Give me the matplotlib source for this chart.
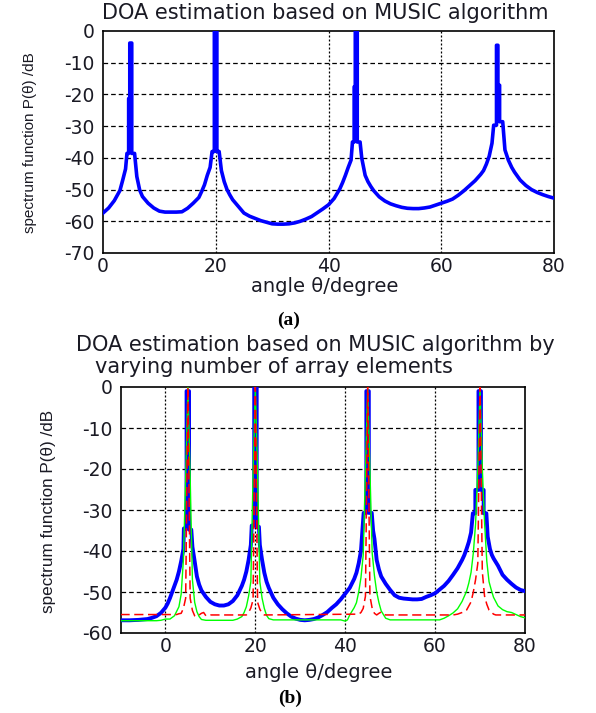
import matplotlib
matplotlib.use('Agg')
import matplotlib.pyplot as plt
from matplotlib import font_manager

# ---- data ----
# (a) single MUSIC spectrum
theta_a = [0, 1, 2, 3, 3.5, 4.0, 4.25, 4.55, 4.55, 4.75, 4.75, 5.1, 5.1, 5.6, 6.0, 6.5, 7,
           8, 9, 10, 11, 12, 13, 14, 15, 16, 17, 17.5, 18, 18.5, 19.0, 19.35, 19.75, 19.75,
           20.2, 20.2, 20.6, 21.0, 21.5, 22, 22.5, 23, 24, 25, 26, 27, 28, 29, 30, 31, 32,
           33, 34, 35, 36, 37, 38, 39, 40, 41, 42, 42.5, 43, 43.5, 44.0, 44.25, 44.55, 44.55,
           44.75, 44.75, 45.1, 45.1, 45.6, 45.9, 46.5, 47, 47.5, 48, 49, 50, 51, 52, 53, 54,
           55, 56, 57, 58, 59, 60, 61, 62, 63, 64, 65, 66, 67, 67.5, 68, 68.5, 69.0, 69.3,
           69.8, 69.8, 70.05, 70.05, 70.35, 70.35, 70.9, 71.3, 71.9, 72.5, 73, 74, 75, 76, 77,
           78, 79, 80]
p_a = [-57.4, -55.8, -53.5, -50.3, -47.0, -43.5, -38.6, -38.6, -21.3, -21.3, -3.8, -3.8,
       -38.6, -38.6, -45.9, -50.1, -52.2, -54.3, -55.8, -56.8, -57.1, -57.1, -57.1, -57.0,
       -55.9, -54.3, -52.5, -50.6, -48.5, -45.5, -43.0, -38.0, -38.0, 0.0, 0.0, -38.0, -38.0,
       -44.0, -47.5, -50.0, -51.7, -53.2, -55.3, -57.4, -58.4, -59.1, -59.8, -60.3, -60.8,
       -60.9, -60.9, -60.8, -60.5, -60.0, -59.3, -58.5, -57.3, -56.1, -54.8, -52.8, -49.8,
       -47.8, -45.5, -43.0, -40.7, -35.0, -35.0, -17.6, -17.6, 0.0, 0.0, -35.0, -35.0, -40.1,
       -45.5, -47.5, -49.0, -50.3, -52.3, -53.6, -54.5, -55.1, -55.6, -55.9, -56.0, -56.0,
       -55.8, -55.5, -54.9, -54.3, -53.7, -53.0, -51.8, -50.4, -48.8, -47.2, -45.2, -44.0,
       -42.0, -39.5, -35.4, -29.7, -29.7, -4.5, -4.5, -17.1, -17.1, -28.6, -28.6, -37.5,
       -40.7, -43.0, -44.5, -47.0, -48.7, -50.0, -50.9, -51.6, -52.2, -52.7]

# (b) varying number of array elements
theta_blue = [-10, -8, -6, -4, -3, -2, -1, 0, 0.5, 1, 1.5, 2, 2.5, 3, 3.5, 4.0, 4.1, 4.7,
              4.7, 5.25, 5.25, 5.75, 6.0, 6.5, 7.0, 7.5, 8, 9, 10, 11, 12, 13, 14, 15, 16, 17,
              17.5, 18, 18.5, 19.0, 19.2, 19.75, 19.75, 20.3, 20.3, 20.8, 21.0, 21.5, 22,
              22.5, 23, 24, 25, 26, 27, 28, 29, 30, 31, 32, 33, 34, 35, 36, 37, 38, 39, 40, 41,
              42, 42.5, 43, 43.5, 44.1, 44.7, 44.7, 45.25, 45.25, 45.9, 46.2, 46.5, 47, 47.5,
              48, 49, 50, 51, 52, 53, 54, 55, 56, 57, 58, 59, 60, 61, 62, 63, 64, 65, 66, 66.5,
              67, 67.5, 68.0, 68.4, 68.95, 68.95, 69.65, 69.65, 70.2, 70.2, 70.8, 70.8, 71.4,
              71.7, 72.2, 72.6, 73, 74, 75, 76, 77, 78, 79, 80]
p_blue = [-56.9, -56.9, -56.8, -56.6, -56.3, -55.9, -55.1, -53.8, -52.8, -51.5, -50.0, -48.5,
          -47.0, -45.0, -42.5, -39.5, -34.5, -34.5, -1.0, -1.0, -34.8, -34.8, -39.0, -42.5,
          -46.2, -48.2, -49.6, -51.2, -52.4, -53.0, -53.3, -53.3, -53.0, -52.2, -50.8, -48.5,
          -47.0, -45.0, -42.2, -38.5, -33.8, -33.8, 0.0, 0.0, -34.1, -34.1, -38.5, -42.2,
          -45.3, -47.5, -49.0, -51.4, -53.0, -54.2, -55.2, -56.0, -56.5, -56.8, -56.9, -56.8,
          -56.6, -56.2, -55.6, -54.9, -53.9, -53.0, -51.8, -50.4, -49.0, -46.8, -45.3, -43.0,
          -40.0, -30.7, -30.7, -1.0, -1.0, -30.7, -30.7, -35.0, -37.0, -42.2, -44.5, -46.2,
          -48.0, -49.5, -50.8, -51.4, -51.6, -51.7, -51.8, -51.8, -51.7, -51.2, -50.8, -50.3,
          -49.4, -48.5, -47.3, -45.8, -44.2, -42.2, -41.0, -39.5, -37.8, -35.5, -30.8, -30.8,
          -25.1, -25.1, -1.0, -1.0, -25.1, -25.1, -30.8, -30.8, -36.5, -39.5, -40.9, -41.8,
          -43.6, -45.8, -47.0, -48.0, -48.9, -49.5, -49.8]

theta_green = [-10, -2, -1, 0, 1, 2, 3, 3.5, 4.0, 4.5, 5.0, 5.5, 6.0, 6.5, 7, 7.5, 8, 9, 15,
               16, 17, 17.5, 18, 18.5, 19.0, 19.5, 20.0, 20.5, 21.0, 21.5, 22, 22.5, 23, 24,
               39, 40, 40.5, 41, 42, 42.5, 43, 43.5, 44.0, 44.5, 45.0, 45.5, 46.0, 46.5, 47,
               47.5, 48, 49, 50, 61, 62, 63, 64, 65, 66, 67, 67.5, 68, 68.5, 69.0, 69.5, 70.0,
               70.5, 71.0, 71.5, 72, 72.5, 73, 74, 75, 76, 77, 78, 79, 80]
p_green = [-57.0, -57.0, -56.9, -56.6, -56.6, -55.8, -53.6, -50.5, -42.0, -22.0, 0.0, -22.0,
           -47.0, -52.5, -54.8, -56.0, -56.7, -56.9, -56.9, -56.6, -56.0, -55.0, -53.6, -51.0,
           -47.5, -21.5, 0.0, -21.5, -47.5, -51.5, -54.0, -55.7, -56.5, -56.8, -56.8, -57.1,
           -56.8, -55.6, -53.8, -52.6, -50.0, -46.5, -41.0, -20.5, 0.0, -20.5, -40.5, -46.0,
           -50.0, -52.6, -54.6, -56.4, -56.8, -56.8, -56.4, -55.8, -55.1, -54.1, -52.3, -49.8,
           -47.8, -45.2, -40.5, -33.5, -19.8, 0.0, -19.8, -33.0, -42.5, -47.5, -49.5, -51.3,
           -53.4, -54.3, -54.8, -55.0, -55.5, -56.0, -56.3]

theta_red = [-10, 2.5, 3, 3.5, 4.0, 4.5, 5.0, 5.5, 6.0, 6.5, 7, 7.5, 8, 8.5, 9, 10, 18, 18.5,
             19.0, 19.5, 20.0, 20.5, 21.0, 21.5, 22, 43, 43.5, 44.0, 44.5, 45.0, 45.5, 46.0,
             46.5, 47, 47.5, 48, 48.5, 49, 64, 65, 66, 67, 68, 68.5, 69.0, 69.5, 70.0, 70.5,
             71.0, 71.5, 72, 73, 73.5, 80]
p_red = [-55.5, -55.5, -55.3, -55.2, -54.0, -51.5, 0.0, -51.5, -54.5, -55.8, -56.0, -55.6,
         -55.2, -55.0, -55.8, -55.6, -55.6, -55.0, -53.9, -51.9, 0.0, -52.5, -54.2, -55.2,
         -55.6, -55.4, -55.0, -54.0, -51.0, 0.0, -51.0, -54.0, -55.2, -55.6, -55.2, -54.9,
         -55.4, -55.6, -55.6, -55.4, -55.0, -54.4, -52.4, -50.0, -47.0, -43.0, 0.0, -45.0,
         -51.0, -53.0, -54.4, -55.4, -55.6, -55.6]

xticks_a = [0, 20, 40, 60, 80]
yticks_a = [0, -10, -20, -30, -40, -50, -60, -70]
xticks_b = [0, 20, 40, 60, 80]
yticks_b = [0, -10, -20, -30, -40, -50, -60]

# ---- styling ----
W, H = 596, 713
TXT = '#1a1a24'
plt.rcParams['font.family'] = ['DejaVu Sans']

# narrow face for the rotated y labels if one is there (text in the source looks condensed)
installed = {f.name for f in font_manager.fontManager.ttflist}
if 'Liberation Sans Narrow' in installed:
    yl_family, yl_a, yl_b = 'Liberation Sans Narrow', 13.3, 15.0
elif 'DejaVu Sans Condensed' in installed:
    yl_family, yl_a, yl_b = 'DejaVu Sans Condensed', 10.7, 12.0
else:
    yl_family, yl_a, yl_b = 'Liberation Sans', 11.0, 12.3

fig = plt.figure(figsize=(W / 100, H / 100), dpi=100)


def px_axes(left, top, right, bottom):
    return fig.add_axes([left / W, 1 - bottom / H, (right - left) / W, (bottom - top) / H])


def style(ax, xlim, ylim, xt, yt):
    ax.set_xlim(*xlim)
    ax.set_ylim(*ylim)
    ax.set_xticks(xt)
    ax.set_yticks(yt)
    ax.set_xticklabels([str(v) for v in xt])
    ax.set_yticklabels([str(v) for v in yt])
    ax.tick_params(length=0, labelsize=13.5, labelcolor=TXT)
    ax.tick_params(axis='y', pad=6)
    ax.tick_params(axis='x', pad=3)
    for s in ax.spines.values():
        s.set_linewidth(1.2)
        s.set_color('black')
    # horizontal grid dashed, vertical grid dotted
    for v in yt:
        if ylim[0] < v < ylim[1]:
            ax.axhline(v, color='black', lw=0.9, linestyle=(0, (3.7, 2.4)), zorder=1)
    for v in xt:
        if xlim[0] < v < xlim[1]:
            ax.axvline(v, color='black', lw=0.9, linestyle=(0, (1.6, 1.6)), zorder=1)


# (a)
ax1 = px_axes(103, 31, 554, 253)
style(ax1, (0, 80), (-70, 0), xticks_a, yticks_a)
ax1.plot(theta_a, p_a, color='#0000ff', lw=2.6, zorder=3)

fig.text(325 / W, 1 - 13 / H, 'DOA estimation based on MUSIC algorithm',
         ha='center', va='center', fontsize=15, color=TXT)
fig.text(325 / W, 1 - 287 / H, 'angle θ/degree', ha='center', va='center',
         fontsize=14, color=TXT)
fig.text(29.6 / W, 1 - 143 / H, 'spectrum function P(θ) /dB', rotation=90,
         ha='center', va='center', fontsize=yl_a, color=TXT, family=[yl_family, 'DejaVu Sans'])
fig.text(289 / W, 1 - 320 / H, '(a)', ha='center', va='center', fontsize=14,
         fontweight='bold', family='Liberation Serif', color='black')

# (b)
ax2 = px_axes(120.5, 387, 525, 633)
style(ax2, (-10, 80), (-60, 0), xticks_b, yticks_b)
ax2.plot(theta_blue, p_blue, color='#0000ff', lw=2.8, zorder=3)
ax2.plot(theta_green, p_green, color='#00ff00', lw=1.0, zorder=4)
ax2.plot(theta_red, p_red, color='#ff0000', lw=1.1, linestyle=(0, (6, 3)), zorder=5)

fig.text(315 / W, 1 - 345 / H, 'DOA estimation based on MUSIC algorithm by',
         ha='center', va='center', fontsize=15, color=TXT)
fig.text(274 / W, 1 - 367 / H, 'varying number of array elements',
         ha='center', va='center', fontsize=15, color=TXT)
fig.text(319 / W, 1 - 672 / H, 'angle θ/degree', ha='center', va='center',
         fontsize=14, color=TXT)
fig.text(48.6 / W, 1 - 511 / H, 'spectrum function P(θ) /dB', rotation=90,
         ha='center', va='center', fontsize=yl_b, color=TXT, family=[yl_family, 'DejaVu Sans'])
fig.text(290 / W, 1 - 698 / H, '(b)', ha='center', va='center', fontsize=14,
         fontweight='bold', family='Liberation Serif', color='black')

fig.savefig('out.png', dpi=100, facecolor='white')
